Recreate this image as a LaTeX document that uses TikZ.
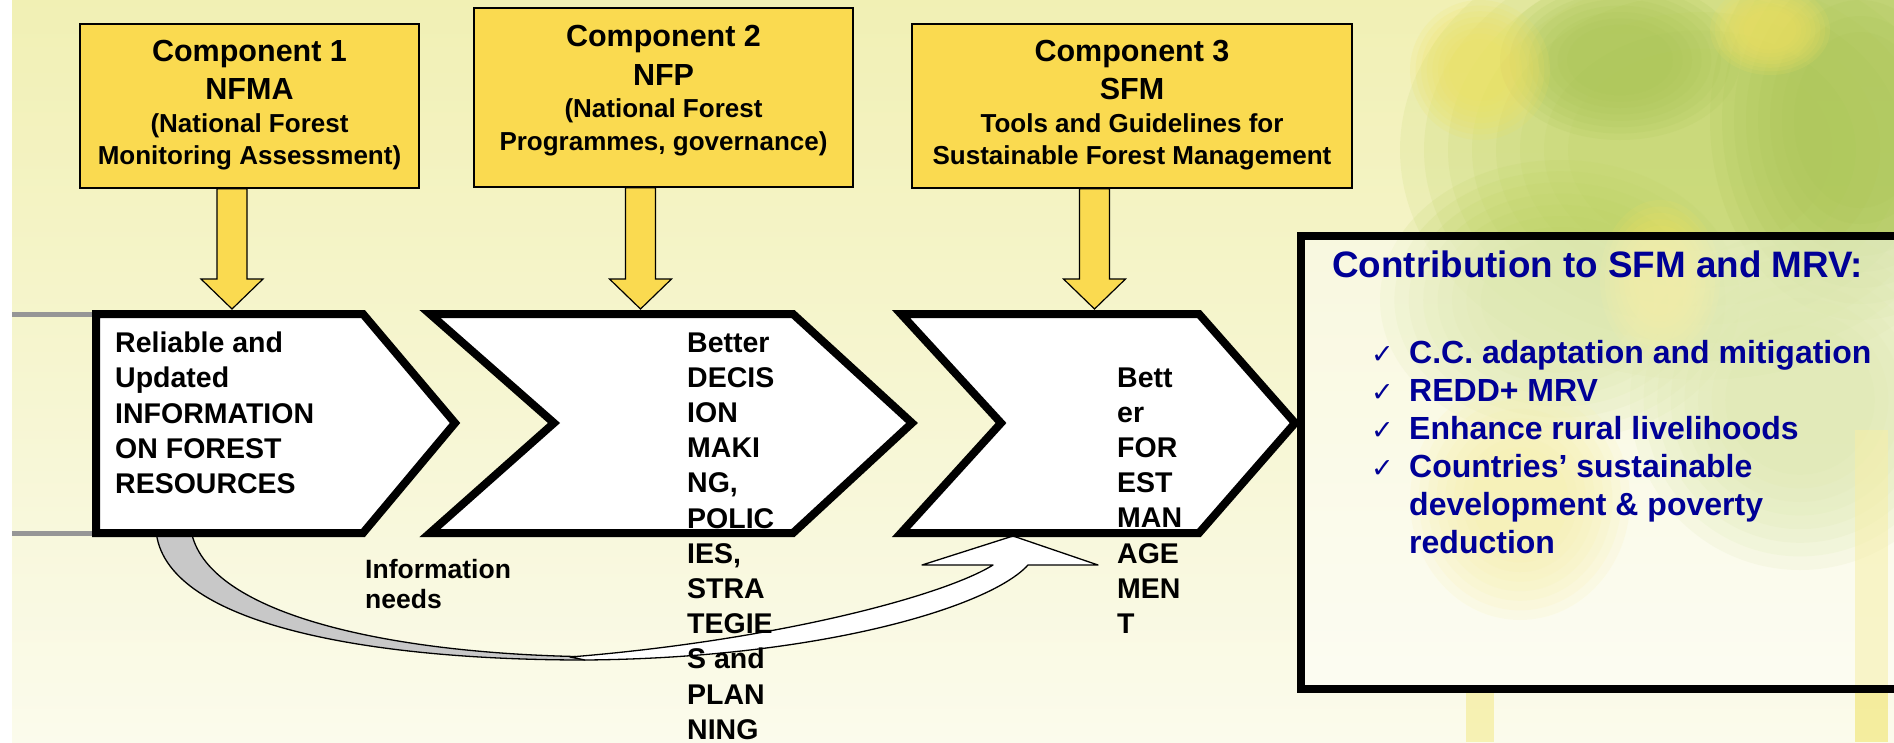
\documentclass[tikz,border=0pt]{standalone}
\usepackage{fontspec}
\setmainfont{Liberation Sans}
\newfontfamily\djv{DejaVu Sans}
\usetikzlibrary{calc}
\definecolor{bgtop}{RGB}{241,240,180}
\definecolor{bgbot}{RGB}{251,251,236}
\definecolor{compyel}{RGB}{250,218,80}
\definecolor{navy}{RGB}{0,0,150}
\definecolor{foliage}{RGB}{188,210,98}
\definecolor{foliagedark}{RGB}{168,196,84}
\definecolor{leafyel}{RGB}{240,226,96}
\definecolor{ribgray}{RGB}{200,200,200}
\definecolor{edgegray}{RGB}{150,150,150}
\newcommand\chk{\makebox[38pt][l]{\djv\mdseries\fontsize{27}{27}\selectfont ✓}}
\newcommand\yelarrow[2]{\draw[yarr] ($(#2|-#1.south)+(-15,0)$) -- ($(#2)+(-15,-30)$) -- ($(#2)+(-31,-30)$) -- (#2) -- ($(#2)+(31,-30)$) -- ($(#2)+(15,-30)$) -- ($(#2|-#1.south)+(15,0)$) -- cycle;}
\newcommand\blob[5]{\foreach \s in {1,0.92,0.84,0.76,0.68,0.6,0.52,0.44}{\fill[#5, fill opacity=0.14] (#1,#2) ellipse [x radius={\s*#3pt}, y radius={\s*#4pt}];}}
\begin{document}
\begin{tikzpicture}[x=1pt,y=-1pt,
  cbox/.style={draw=black, line width=1.5pt, fill=compyel, inner sep=0pt},
  ctext/.style={font=\fontsize{26}{32.5}\selectfont\bfseries, inner sep=0pt, anchor=base},
  yarr/.style={draw=black, line width=1.2pt, fill=compyel, line join=miter},
  chev/.style={draw=black, line width=8pt, fill=white, line join=miter},
  chtext/.style={font=\fontsize{28.5}{35.2}\selectfont\bfseries, inner sep=0pt, anchor=base west},
  ribbon/.style={draw=black, line width=1.3pt, line join=round},
  edgeline/.style={draw=edgegray, line width=5pt},
  rboxstyle/.style={draw=black, line width=8pt, fill=white, fill opacity=0.45, inner sep=0pt},
  bluetext/.style={text=navy, inner sep=0pt, anchor=base west},
]
\useasboundingbox (0,0) rectangle (1894,742);
% background
\fill[white] (0,0) rectangle (1894,742);
\shade[top color=bgtop, bottom color=bgbot] (12,0) rectangle (1894,742);
\blob{1700}{150}{300}{230}{foliage}
\blob{1860}{120}{150}{200}{foliagedark}
\blob{1560}{300}{180}{140}{foliage}
\blob{1800}{400}{170}{170}{foliage}
\blob{1620}{60}{120}{80}{foliagedark}
\blob{1480}{70}{70}{70}{leafyel}
\blob{1660}{280}{60}{80}{leafyel}
\blob{1770}{30}{60}{45}{leafyel}
\blob{1520}{500}{110}{120}{leafyel}
\fill[leafyel, fill opacity=0.55] (1855,430) rectangle (1888,742);
\fill[leafyel, fill opacity=0.4] (1466,690) rectangle (1494,742);

% left edge lines
\coordinate (e1) at (12,314);
\coordinate (e2) at (12,533);
\draw[edgeline] (e1) -- (96,314);
\draw[edgeline] (e2) -- (96,533);

% curved feedback ribbon
\draw[ribbon, fill=ribgray] (156,530) .. controls (163,622) and (360,660) .. (585,660) -- (575,656.5) .. controls (380,652) and (205,612) .. (191,530) -- cycle;
\draw[ribbon, fill=white] (570,657) .. controls (780,640) and (945,595) .. (993,565) -- (922,565) -- (1013,536) -- (1098,565) -- (1028,565) .. controls (990,607) and (820,658) .. (585,660) -- cycle;

% chevrons
\draw[chev] (96,314) -- (363,314) -- (455,423) -- (363,533) -- (96,533) -- cycle;
\draw[chev] (430,314) -- (793,314) -- (912,423) -- (793,533) -- (430,533) -- (554,423) -- cycle;
\draw[chev] (901,314) -- (1199,314) -- (1295,423) -- (1199,533) -- (901,533) -- (1001,423) -- cycle;
\coordinate (t1) at (232,309);
\coordinate (t2) at (640.5,309);
\coordinate (t3) at (1094.5,309);

% right box
\node[rboxstyle, minimum width=619pt, minimum height=453pt] (rb) at (1610.5,462.5) {};

% component boxes
\node[cbox, minimum width=339pt, minimum height=164pt] (c1) at (249.5,106) {};
\node[cbox, minimum width=379pt, minimum height=179pt] (c2) at (663.5,97.5) {};
\node[cbox, minimum width=440pt, minimum height=164pt] (c3) at (1132,106) {};
\node[ctext] (c1t) at (249.5,61) {\begin{tabular}[t]{@{}c@{}}\fontsize{30.5}{32.5}\selectfont Component 1\\[6pt]\fontsize{30.5}{32.5}\selectfont NFMA\\(National Forest\\Monitoring Assessment)\end{tabular}};
\node[ctext] (c2t) at (663.5,46.5) {\begin{tabular}[t]{@{}c@{}}\fontsize{30.5}{32.5}\selectfont Component 2\\[6pt]\fontsize{30.5}{32.5}\selectfont NFP\\(National Forest\\Programmes, governance)\end{tabular}};
\node[ctext] (c3t) at (1132,61) {\begin{tabular}[t]{@{}c@{}}\fontsize{30.5}{32.5}\selectfont Component 3\\[6pt]\fontsize{30.5}{32.5}\selectfont SFM\\Tools and Guidelines for\\Sustainable Forest Management\end{tabular}};

% yellow block arrows
\yelarrow{c1}{t1}
\yelarrow{c2}{t2}
\yelarrow{c3}{t3}

% chevron texts
\node[chtext] (ch1t) at (115,352.7) {\begin{tabular}[t]{@{}l@{}}Reliable and\\Updated\\INFORMATION\\ON FOREST\\RESOURCES\end{tabular}};
\node[chtext] (ch2t) at (687,352) {\begin{tabular}[t]{@{}l@{}}Better\\DECIS\\ION\\MAKI\\NG,\\POLIC\\IES,\\STRA\\TEGIE\\S and\\PLAN\\NING\end{tabular}};
\node[chtext] (ch3t) at (1117,387) {\begin{tabular}[t]{@{}l@{}}Bett\\er\\FOR\\EST\\MAN\\AGE\\MEN\\T\end{tabular}};

% information needs
\node[font=\fontsize{26.5}{30}\selectfont\bfseries, inner sep=0pt, anchor=base west] (info) at (365,578) {\begin{tabular}[t]{@{}l@{}}Information\\needs\end{tabular}};

% right box texts
\node[bluetext, font=\fontsize{36.8}{40}\selectfont\bfseries] (rtitle) at (1332,277) {Contribution to SFM and MRV:};
\node[bluetext, font=\fontsize{32}{38}\selectfont\bfseries] (rlist) at (1371,363) {\begin{tabular}[t]{@{}l@{}l@{}}\chk & C.C. adaptation and mitigation\\ \chk & REDD+ MRV\\ \chk & Enhance rural livelihoods\\ \chk & Countries’ sustainable\\ & development \& poverty\\ & reduction\end{tabular}};
\end{tikzpicture}
\end{document}
